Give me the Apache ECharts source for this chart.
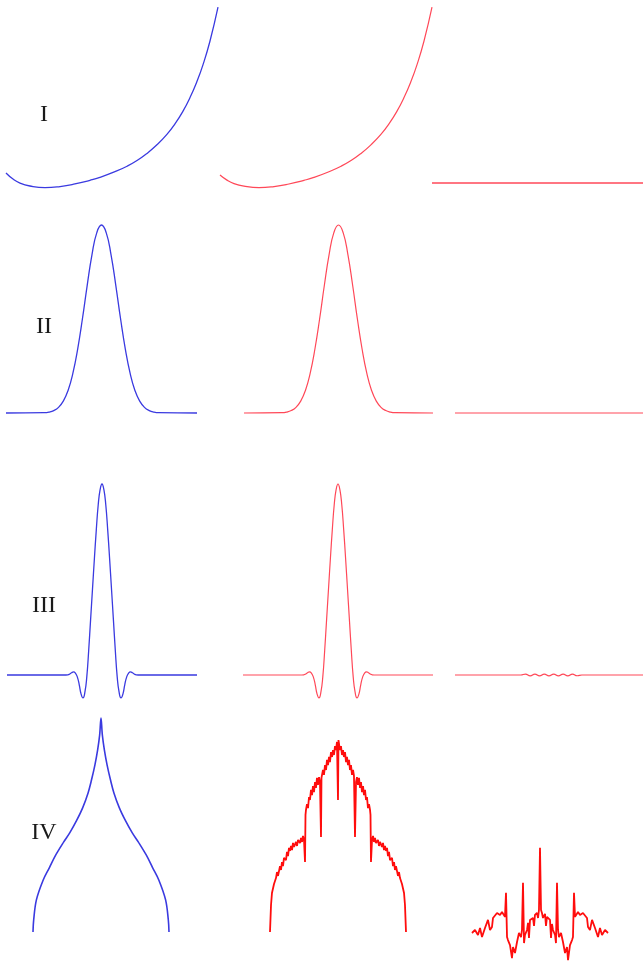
<!DOCTYPE html>
<html>
<head>
<meta charset="utf-8">
<script src="https://cdn.jsdelivr.net/npm/echarts@6/dist/echarts.min.js"></script>
<style>
html,body{margin:0;padding:0;background:#fff;}
#chart{width:643px;height:969px;}
</style>
</head>
<body>
<div id="chart"></div>
<script>
// ---- Row labels ----
var rowLabels = ['I', 'II', 'III', 'IV'];

// ---- Row I (exponential-like) ----
var xI = [0, 0.033, 0.066, 0.113, 0.184, 0.255, 0.325, 0.396, 0.443, 0.514, 0.571, 0.618, 0.665, 0.712, 0.759, 0.797, 0.835, 0.868, 0.901, 0.929, 0.962, 1.0];
var fI = [0.082, 0.049, 0.027, 0.011, 0.002, 0.008, 0.022, 0.042, 0.058, 0.089, 0.119, 0.150, 0.189, 0.236, 0.293, 0.350, 0.420, 0.494, 0.583, 0.673, 0.802, 0.988];
var aI = [0.071, 0.043, 0.024, 0.010, 0.002, 0.008, 0.022, 0.042, 0.058, 0.089, 0.119, 0.150, 0.189, 0.236, 0.293, 0.350, 0.420, 0.494, 0.583, 0.673, 0.802, 0.988];
var xIe = [0, 1];
var eI = [0, 0];

// ---- Row II (bell) ----
var xII = [-1, -0.6, -0.55, -0.5, -0.45, -0.4, -0.35, -0.3, -0.25, -0.2, -0.15, -0.1, -0.05, 0, 0.05, 0.1, 0.15, 0.2, 0.25, 0.3, 0.35, 0.4, 0.45, 0.5, 0.55, 0.6, 1];
var fII = [0, 0.002, 0.005, 0.013, 0.030, 0.063, 0.120, 0.211, 0.339, 0.500, 0.678, 0.841, 0.958, 1, 0.958, 0.841, 0.678, 0.500, 0.339, 0.211, 0.120, 0.063, 0.030, 0.013, 0.005, 0.002, 0];
var aII = [0, 0.002, 0.005, 0.013, 0.030, 0.063, 0.120, 0.211, 0.339, 0.500, 0.678, 0.841, 0.958, 1, 0.958, 0.841, 0.678, 0.500, 0.339, 0.211, 0.120, 0.063, 0.030, 0.013, 0.005, 0.002, 0];
var xIIe = [-1, 1];
var eII = [0, 0];

// ---- Row III (hat with side lobes) ----
var xIII = [-1, -0.4, -0.36, -0.34, -0.32, -0.3, -0.28, -0.26, -0.24, -0.22, -0.2, -0.18, -0.16, -0.14, -0.12, -0.1, -0.08, -0.06, -0.04, -0.02, 0,
            0.02, 0.04, 0.06, 0.08, 0.1, 0.12, 0.14, 0.16, 0.18, 0.2, 0.22, 0.24, 0.26, 0.28, 0.3, 0.32, 0.34, 0.36, 0.4, 1];
var fIII = [0, 0, 0.001, 0.005, 0.012, 0.016, 0.01, -0.01, -0.05, -0.10, -0.12, -0.09, -0.01, 0.13, 0.29, 0.45, 0.61, 0.76, 0.89, 0.97, 1,
            0.97, 0.89, 0.76, 0.61, 0.45, 0.29, 0.13, -0.01, -0.09, -0.12, -0.10, -0.05, -0.01, 0.01, 0.016, 0.012, 0.005, 0.001, 0, 0];
var aIII = [0, 0, 0.001, 0.005, 0.012, 0.016, 0.01, -0.01, -0.05, -0.10, -0.12, -0.09, -0.01, 0.13, 0.29, 0.45, 0.61, 0.76, 0.89, 0.97, 1,
            0.97, 0.89, 0.76, 0.61, 0.45, 0.29, 0.13, -0.01, -0.09, -0.12, -0.10, -0.05, -0.01, 0.01, 0.016, 0.012, 0.005, 0.001, 0, 0];
var xIIIe = [-1, -0.3, -0.25, -0.2, -0.15, -0.1, -0.05, 0, 0.05, 0.1, 0.15, 0.2, 0.25, 0.3, 0.35, 1];
var eIII = [0, 0, 0.005, -0.005, 0.005, -0.005, 0.005, -0.005, 0.005, -0.005, 0.005, -0.005, 0.005, -0.004, 0, 0];

// ---- Row IV (cusp) ----
var xIV = [-1, -0.99, -0.95, -0.85, -0.76, -0.665, -0.55, -0.46, -0.36, -0.27, -0.19, -0.14, -0.09, -0.05, -0.02, 0,
           0.02, 0.05, 0.09, 0.14, 0.19, 0.27, 0.36, 0.46, 0.55, 0.665, 0.76, 0.85, 0.95, 0.99, 1];
var fIV = [0, 0.056, 0.15, 0.243, 0.30, 0.36, 0.42, 0.463, 0.52, 0.58, 0.65, 0.71, 0.78, 0.85, 0.92, 1.0,
           0.92, 0.85, 0.78, 0.71, 0.65, 0.58, 0.52, 0.463, 0.42, 0.36, 0.30, 0.243, 0.15, 0.056, 0];
var xIVa = [-1, -0.985, -0.971, -0.941, -0.912, -0.897, -0.882, -0.853, -0.838, -0.824, -0.809, -0.794, -0.765, -0.75, -0.735, -0.721, -0.706, -0.691, -0.676, -0.662, -0.647, -0.618, -0.603, -0.588, -0.559, -0.544, -0.529, -0.515, -0.5, -0.485, -0.478, -0.471, -0.456, -0.441, -0.426, -0.412, -0.397, -0.382, -0.368, -0.353, -0.338, -0.324, -0.309, -0.294, -0.279, -0.265, -0.25, -0.243, -0.235, -0.221, -0.206, -0.191, -0.176, -0.162, -0.147, -0.132, -0.118, -0.103, -0.088, -0.074, -0.059, -0.044, -0.029, -0.015, -0.007, 0,
            0.007, 0.015, 0.029, 0.044, 0.059, 0.074, 0.088, 0.103, 0.118, 0.132, 0.147, 0.162, 0.176, 0.191, 0.206, 0.221, 0.235, 0.243, 0.25, 0.265, 0.279, 0.294, 0.309, 0.324, 0.338, 0.353, 0.368, 0.382, 0.397, 0.412, 0.426, 0.441, 0.456, 0.471, 0.478, 0.485, 0.5, 0.515, 0.529, 0.544, 0.559, 0.588, 0.603, 0.618, 0.647, 0.662, 0.676, 0.691, 0.706, 0.721, 0.735, 0.75, 0.765, 0.794, 0.809, 0.824, 0.838, 0.853, 0.882, 0.897, 0.912, 0.941, 0.971, 0.985, 1];
var aIV = [0, 0.126, 0.182, 0.224, 0.252, 0.280, 0.262, 0.308, 0.290, 0.327, 0.308, 0.346, 0.336, 0.374, 0.355, 0.393, 0.379, 0.402, 0.383, 0.416, 0.397, 0.421, 0.402, 0.430, 0.416, 0.439, 0.421, 0.449, 0.430, 0.327, 0.547, 0.570, 0.598, 0.579, 0.631, 0.617, 0.664, 0.640, 0.682, 0.654, 0.701, 0.673, 0.720, 0.687, 0.724, 0.701, 0.444, 0.720, 0.729, 0.757, 0.734, 0.780, 0.757, 0.804, 0.780, 0.818, 0.794, 0.841, 0.818, 0.850, 0.827, 0.869, 0.850, 0.888, 0.897, 0.617,
           0.897, 0.888, 0.850, 0.869, 0.827, 0.850, 0.818, 0.841, 0.794, 0.818, 0.780, 0.804, 0.757, 0.780, 0.734, 0.757, 0.729, 0.720, 0.444, 0.701, 0.724, 0.687, 0.720, 0.673, 0.701, 0.654, 0.682, 0.640, 0.664, 0.617, 0.631, 0.579, 0.598, 0.570, 0.547, 0.327, 0.430, 0.449, 0.421, 0.439, 0.416, 0.430, 0.402, 0.421, 0.397, 0.416, 0.383, 0.402, 0.379, 0.393, 0.355, 0.374, 0.336, 0.346, 0.308, 0.327, 0.290, 0.308, 0.262, 0.280, 0.252, 0.224, 0.182, 0.126, 0];
var xIVe = [-1, -0.956, -0.912, -0.882, -0.853, -0.809, -0.765, -0.735, -0.706, -0.691, -0.632, -0.588, -0.559, -0.515, -0.5, -0.485, -0.471, -0.441, -0.412, -0.397, -0.368, -0.338, -0.309, -0.279, -0.265, -0.25, -0.235, -0.221, -0.191, -0.176, -0.162, -0.147, -0.103, -0.088, -0.074, -0.044, -0.029, -0.015, 0,
            0.015, 0.029, 0.044, 0.074, 0.088, 0.103, 0.147, 0.162, 0.176, 0.191, 0.221, 0.235, 0.25, 0.265, 0.279, 0.309, 0.338, 0.368, 0.397, 0.412, 0.441, 0.471, 0.485, 0.5, 0.515, 0.559, 0.588, 0.632, 0.691, 0.706, 0.735, 0.765, 0.809, 0.853, 0.882, 0.912, 0.956, 1];
var eIV = [0, 0.014, -0.009, 0.023, -0.019, 0.023, 0.061, 0.014, 0.028, 0.070, 0.093, 0.084, 0.098, 0.075, 0.187, -0.019, -0.033, -0.056, -0.117, -0.065, -0.093, -0.042, 0, -0.019, 0.014, 0.234, -0.047, -0.009, 0.014, 0.047, -0.023, 0.061, 0.070, 0.033, 0.084, 0.093, 0.070, 0.107, 0.397,
           0.107, 0.093, 0.070, 0.089, 0.033, 0.075, 0.061, -0.023, 0.042, 0.014, -0.009, -0.047, 0.234, 0.014, -0.019, 0, -0.042, -0.093, -0.065, -0.126, -0.056, -0.033, -0.019, 0.187, 0.075, 0.098, 0.084, 0.093, 0.070, 0.028, 0.014, 0.061, 0.023, -0.019, 0.023, -0.009, 0.014, 0];

function zip(xs, ys) { return xs.map(function (x, i) { return [x, ys[i]]; }); }

var BLUE = '#3a3ae0';
var RED = '#ff4858';
var RED4 = '#ff0d0d';

// panel layout: [left, top, width, height, xmin, xmax]
var panels = [
  [6, 5, 212, 183, 0, 1], [220, 5, 212, 183, 0, 1], [432, 5, 211, 178, 0, 1],
  [6, 225, 191, 188, -1, 1], [244, 225, 189, 188, -1, 1], [455, 225, 188, 188, -1, 1],
  [7, 484, 190, 191, -1, 1], [243, 484, 190, 191, -1, 1], [455, 484, 188, 191, -1, 1],
  [33, 718, 136, 214, -1, 1], [270, 718, 136, 214, -1, 1], [472, 718, 136, 215, -1, 1]
];
var seriesData = [
  [zip(xI, fI), BLUE, 1.3, true], [zip(xI, aI), RED, 1.2, true], [zip(xIe, eI), RED, 1.4, false],
  [zip(xII, fII), BLUE, 1.3, true], [zip(xII, aII), RED, 1.2, true], [zip(xIIe, eII), RED, 1.2, false],
  [zip(xIII, fIII), BLUE, 1.3, true], [zip(xIII, aIII), RED, 1.2, true], [zip(xIIIe, eIII), RED, 1.2, true],
  [zip(xIV, fIV), BLUE, 1.6, 0.35], [zip(xIVa, aIV), RED4, 1.8, false], [zip(xIVe, eIV), RED4, 1.8, false]
];

var grids = [], xAxes = [], yAxes = [], series = [];
panels.forEach(function (p, i) {
  grids.push({ left: p[0], top: p[1], width: p[2], height: p[3], containLabel: false });
  xAxes.push({ type: 'value', gridIndex: i, min: p[4], max: p[5], show: false });
  yAxes.push({ type: 'value', gridIndex: i, min: 0, max: 1, show: false });
  var s = seriesData[i];
  series.push({
    type: 'line', xAxisIndex: i, yAxisIndex: i, data: s[0],
    showSymbol: false, symbol: 'none', clip: false, smooth: s[3],
    lineStyle: { color: s[1], width: s[2] }, silent: true
  });
});

var labelY = [115, 327, 606, 833];
var graphics = rowLabels.map(function (t, i) {
  return {
    type: 'text', x: 44, y: labelY[i],
    style: { text: t, fill: '#1a1a1a', font: '24px "Liberation Serif", "DejaVu Serif", serif', textAlign: 'center', textVerticalAlign: 'middle' }
  };
});

var chart = echarts.init(document.getElementById('chart'), null, { renderer: 'canvas' });
chart.setOption({
  animation: false,
  backgroundColor: '#ffffff',
  grid: grids, xAxis: xAxes, yAxis: yAxes, series: series,
  graphic: graphics
});
</script>
</body>
</html>
